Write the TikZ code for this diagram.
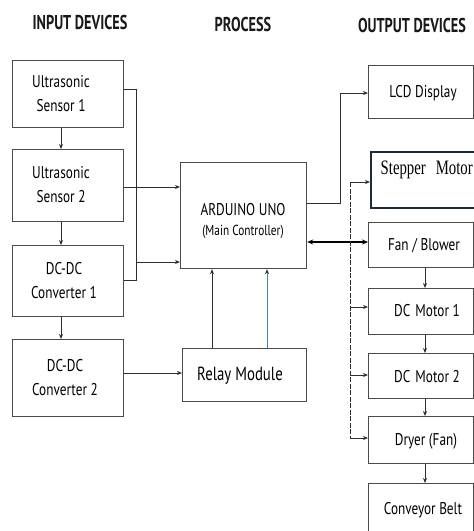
\documentclass[tikz,border=0pt]{standalone}
\usepackage{fontspec}
\setmainfont{PT Sans}[FakeStretch=0.78]
\newfontfamily\hdrfont{PT Sans}[FakeStretch=0.715]
\newfontfamily\serfont{Liberation Serif}[FakeStretch=0.72]
\usetikzlibrary{arrows.meta}
\definecolor{boxline}{HTML}{4A4A4A}
\definecolor{conn}{HTML}{2E2E2E}
\definecolor{navy}{HTML}{1C2A3A}
\definecolor{teal}{HTML}{3C86A4}
\tikzset{
  box/.style={draw=boxline, line width=1.2pt, rectangle, anchor=north west, inner sep=0pt},
  lbl/.style={align=center, inner sep=0pt, font=\fontsize{17}{24}\selectfont, text=black},
  hdr/.style={inner sep=0pt, font=\hdrfont\bfseries\fontsize{20}{22}\selectfont, text=black!90},
  conline/.style={draw=conn, line width=0.9pt},
  arr/.style={conline, -{Stealth[length=5pt,width=4pt]}},
  dasharr/.style={draw=conn, line width=0.9pt, dash pattern=on 5pt off 1.5pt},
}
\begin{document}
\begin{tikzpicture}[x=1pt,y=-1pt]
\useasboundingbox (0,0) rectangle (474,531);
\fill[white] (0,0) rectangle (474,531);
% headers
\node[hdr] (h1) at (80,22) {INPUT DEVICES};
\node[hdr] (h2) at (243,24) {PROCESS};
\node[hdr] (h3) at (412,25) {OUTPUT DEVICES};
% left boxes
\node[box, minimum width=111pt, minimum height=67pt] (s1) at (12,60) {};
\node[box, minimum width=111pt, minimum height=72pt] (s2) at (12,149) {};
\node[box, minimum width=111pt, minimum height=71pt] (c1) at (12,245) {};
\node[box, minimum width=111pt, minimum height=77pt] (c2) at (12,339) {};
\node[lbl] (s1t) at (61,94) {Ultrasonic\\Sensor 1};
\node[lbl] (s2t) at (61,185) {Ultrasonic\\Sensor 2};
\node[lbl] (c1t) at (64,280.5) {DC-DC\\Converter 1};
\node[lbl] (c2t) at (65,377.5) {DC-DC\\Converter 2};
% process
\node[box, minimum width=126pt, minimum height=106pt] (ard) at (180,162) {};
\node[lbl] (ardt) at (243,210) {ARDUINO UNO};
\node[lbl, font=\fontsize{14.5}{16}\selectfont] (ardt2) at (243,232) {(Main Controller)};
\node[box, minimum width=124pt, minimum height=53pt] (rel) at (182,348) {};
\node[lbl, font=\fontsize{19}{22}\selectfont] (relt) at (240,376) {Relay Module};
% output boxes
\node[box, minimum width=105pt, minimum height=53pt] (lcd) at (368,65) {};
\node[box, draw=navy, line width=1.8pt, minimum width=120pt, minimum height=56pt] (stp) at (370,151) {};
\node[box, minimum width=105pt, minimum height=45pt] (fan) at (368,222) {};
\node[box, minimum width=105pt, minimum height=46pt] (dc1) at (368,288) {};
\node[box, minimum width=105pt, minimum height=45pt] (dc2) at (368,353) {};
\node[box, minimum width=105pt, minimum height=47pt] (dry) at (368,416) {};
\node[box, minimum width=105pt, minimum height=55pt] (cnv) at (368,483) {};
\node[lbl] (lcdt) at (423,93) {LCD Display};
\node[inner sep=0pt, anchor=base west, font=\serfont\fontsize{20.5}{22}\selectfont, text=black] (stpt) at (380.5,174.5) {Stepper\hspace{10pt}Motor};
\node[lbl] (fant) at (424,246) {Fan / Blower};
\node[lbl] (dc1t) at (427,311) {DC\hspace{5pt}Motor 1};
\node[lbl] (dc2t) at (427,377) {DC\hspace{5pt}Motor 2};
\node[lbl] (dryt) at (426,441) {Dryer (Fan)};
\node[lbl] (cnvt) at (423,510) {Conveyor Belt};
% left vertical arrows
\draw[arr] (s1.south -| s1t) -- (s2.north -| s1t);
\draw[arr] (s2.south -| s1t) -- (c1.north -| s1t);
\draw[arr] (c1.south -| s1t) -- (c2.north -| s1t);
% left bus
\coordinate (b1) at (136.5,89);
\coordinate (b2) at (136.5,280);
\draw[conline] (s1.east |- b1) -- (b1) -- (b2) -- (c1.east |- b2);
\draw[arr] (s2.east |- 0,187) -- (ard.west |- 0,187);
\draw[arr] (b1 |- 0,262) -- (ard.west |- 0,262);
\draw[arr] (c2.east |- 0,373) -- (rel.west |- 0,373);
% relay to arduino
\draw[arr] (rel.north -| 212,0) -- (ard.south -| 212,0);
\draw[conline, draw=teal, -{Stealth[length=5pt,width=4pt,color=conn]}] (rel.north -| 267,0) -- (ard.south -| 267,0);
% arduino to LCD
\coordinate (l1) at (340,203);
\coordinate (l2) at (340,93);
\draw[arr] (ard.east |- l1) -- (l1) -- (l2) -- (lcd.west |- l2);
% double arrow to fan
\draw[draw=black, line width=1.5pt, {Stealth[length=6pt,width=5pt]}-{Stealth[length=6pt,width=5pt]}] (ard.east |- 0,242) -- (fan.west |- 0,242);
% dashed bus
\coordinate (d1) at (350,182);
\coordinate (d2) at (350,438);
\draw[dasharr] (d1) -- (d2);
\draw[arr] (d1) -- (stp.west |- d1);
\draw[arr] (d1 |- 0,307) -- (dc1.west |- 0,307);
\draw[arr] (d1 |- 0,375) -- (dc2.west |- 0,375);
\draw[arr] (d2) -- (dry.west |- d2);
% right vertical arrows
\draw[arr] (fan.south -| 425,0) -- (dc1.north -| 425,0);
\draw[arr] (dc1.south -| 425,0) -- (dc2.north -| 425,0);
\draw[arr] (dc2.south -| 425,0) -- (dry.north -| 425,0);
\draw[arr] (dry.south -| 425,0) -- (cnv.north -| 425,0);
\end{tikzpicture}
\end{document}
